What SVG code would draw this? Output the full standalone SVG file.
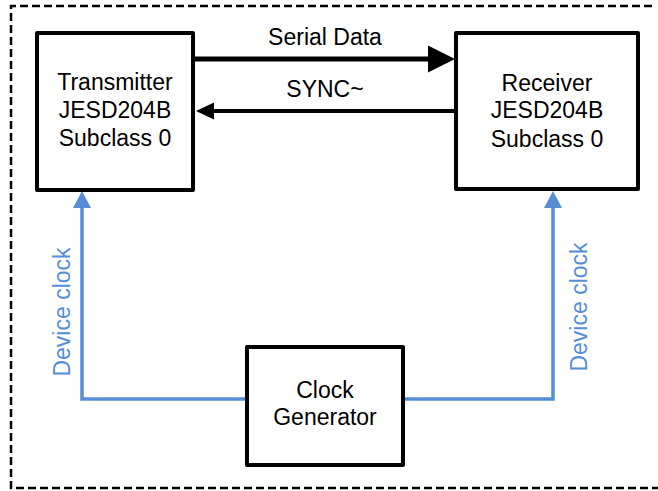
<svg xmlns="http://www.w3.org/2000/svg" width="658" height="491" viewBox="0 0 658 491">
<defs>
<style>
.box{fill:#fff;stroke:#000;stroke-width:4;stroke-linejoin:round}
.t{font-family:"Liberation Sans",Arial,sans-serif;font-size:23px;fill:#000;text-anchor:middle}
.blue{fill:none;stroke:#558ED5;stroke-width:3.5}
.bt{font-family:"Liberation Sans",Arial,sans-serif;font-size:23px;fill:#558ED5;text-anchor:middle}
</style>
</defs>
<rect width="658" height="491" fill="#fff"/>
<path d="M652,6 H11 V488 H658" fill="none" stroke="#000" stroke-width="2.5" stroke-dasharray="8,4"/>
<g id="connectors">
<line x1="192" y1="59" x2="429" y2="59" stroke="#000" stroke-width="5"/>
<polygon points="428,45.5 455,59 428,72.5" fill="#000"/>
<text class="t" x="325" y="45">Serial Data</text>
<line x1="456" y1="111" x2="212" y2="111" stroke="#000" stroke-width="4"/>
<polygon points="214,102.5 196,111 214,119.5" fill="#000"/>
<text class="t" x="325" y="97">SYNC~</text>
<polyline class="blue" points="247,399 82,399 82,206"/>
<polygon points="73,208 82,191 91,208" fill="#558ED5"/>
<text class="bt" transform="translate(70,312) rotate(-90)">Device clock</text>
<polyline class="blue" points="403,399 553,399 553,206"/>
<polygon points="544,208 553,191 562,208" fill="#558ED5"/>
<text class="bt" transform="translate(587,307) rotate(-90)">Device clock</text>
</g>
<g id="transmitter">
<rect class="box" x="37" y="33" width="156" height="157"/>
<text class="t" x="115" y="90">Transmitter</text>
<text class="t" x="115" y="118">JESD204B</text>
<text class="t" x="115" y="146">Subclass 0</text>
</g>
<g id="receiver">
<rect class="box" x="456" y="33" width="182" height="156"/>
<text class="t" x="547" y="91">Receiver</text>
<text class="t" x="547" y="118">JESD204B</text>
<text class="t" x="547" y="146.5">Subclass 0</text>
</g>
<g id="clock-generator">
<rect class="box" x="247" y="347" width="156" height="118"/>
<text class="t" x="325" y="398">Clock</text>
<text class="t" x="325" y="425">Generator</text>
</g>
</svg>
